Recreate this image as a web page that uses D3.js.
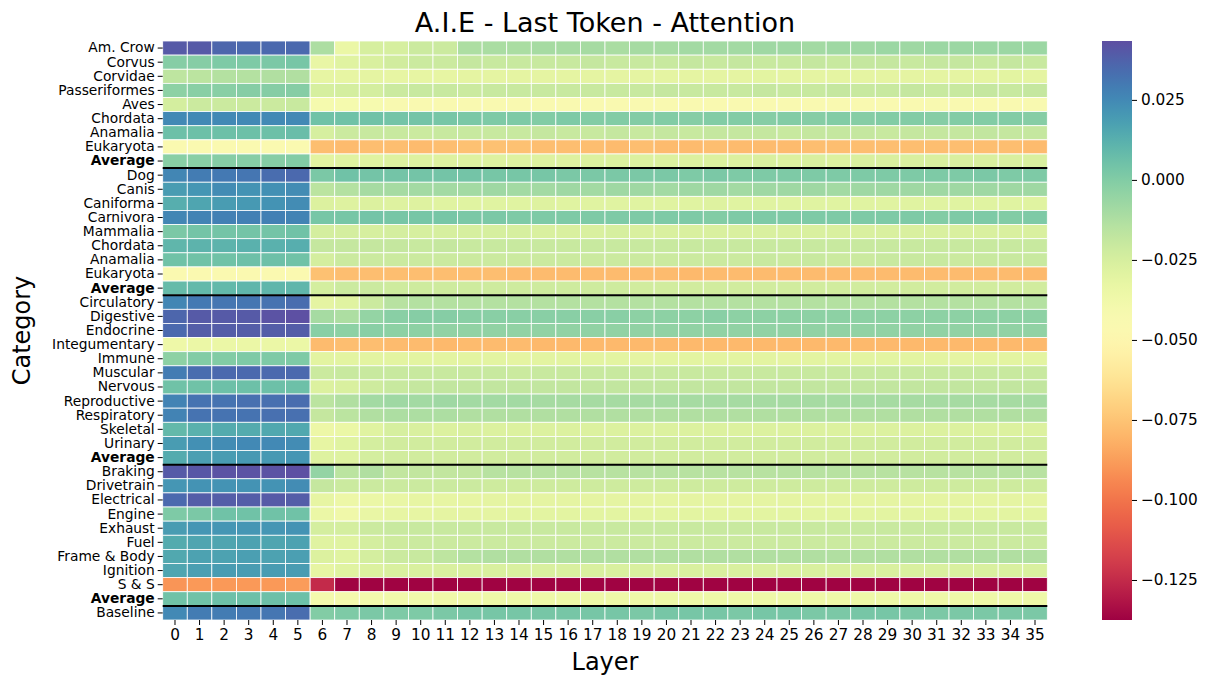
<!DOCTYPE html>
<html>
<head>
<meta charset="utf-8">
<script src="https://cdn.jsdelivr.net/npm/d3@7"></script>
<style>
  body { margin: 0; background: #fff; }
  svg { font-family: "DejaVu Sans", sans-serif; }
</style>
</head>
<body>
<script>
// rows of the heatmap (top to bottom)
var categories = ["Am. Crow", "Corvus", "Corvidae", "Passeriformes", "Aves", "Chordata", "Anamalia", "Eukaryota", "Average",
  "Dog", "Canis", "Caniforma", "Carnivora", "Mammalia", "Chordata", "Anamalia", "Eukaryota", "Average",
  "Circulatory", "Digestive", "Endocrine", "Integumentary", "Immune", "Muscular", "Nervous", "Reproductive",
  "Respiratory", "Skeletal", "Urinary", "Average",
  "Braking", "Drivetrain", "Electrical", "Engine", "Exhaust", "Fuel", "Frame & Body", "Ignition", "S & S", "Average",
  "Baseline"];

// columns
var layers = d3.range(36);

// black separators sit above these row indices
var groupBreaks = [9, 18, 30, 40];

var colorbarTicks = [-0.125, -0.1, -0.075, -0.05, -0.025, 0, 0.025];
var vmin = -0.1375, vmax = 0.0434;

// values[row][layer]
var values = [
  [0.040,0.040,0.036,0.035,0.035,0.035, -0.012,-0.034,-0.025,-0.025,-0.021,-0.021,-0.012,-0.011,-0.011,-0.010, -0.010,-0.010,-0.011,-0.010,-0.010,-0.009,-0.009,-0.009,-0.008,-0.008, -0.009,-0.008,-0.008,-0.007,-0.008,-0.007,-0.007,-0.007,-0.007,-0.007],
  [-0.001,-0.001,0.001,0.001,0.002,0.003, -0.033,-0.029,-0.026,-0.023,-0.021,-0.021,-0.019,-0.020,-0.020,-0.020, -0.020,-0.019,-0.020,-0.020,-0.020,-0.019,-0.020,-0.019,-0.020,-0.020, -0.019,-0.020,-0.019,-0.019,-0.020,-0.019,-0.019,-0.020,-0.019,-0.020],
  [-0.017,-0.016,-0.014,-0.014,-0.013,-0.013, -0.032,-0.032,-0.031,-0.032,-0.032,-0.032,-0.031,-0.031,-0.031,-0.031, -0.031,-0.031,-0.031,-0.031,-0.031,-0.031,-0.031,-0.031,-0.030,-0.031, -0.031,-0.031,-0.031,-0.031,-0.031,-0.031,-0.031,-0.031,-0.030,-0.031],
  [-0.003,-0.002,-0.002,-0.001,-0.001,-0.001, -0.025,-0.024,-0.024,-0.021,-0.020,-0.020,-0.021,-0.020,-0.020,-0.020, -0.020,-0.020,-0.020,-0.020,-0.019,-0.020,-0.020,-0.020,-0.019,-0.020, -0.020,-0.019,-0.020,-0.020,-0.019,-0.020,-0.020,-0.019,-0.020,-0.019],
  [-0.024,-0.021,-0.021,-0.021,-0.021,-0.020, -0.041,-0.041,-0.042,-0.044,-0.045,-0.045,-0.045,-0.045,-0.045,-0.045, -0.045,-0.045,-0.045,-0.045,-0.045,-0.045,-0.045,-0.045,-0.045,-0.045, -0.045,-0.045,-0.045,-0.045,-0.045,-0.044,-0.045,-0.045,-0.045,-0.044],
  [0.025,0.025,0.025,0.025,0.025,0.025, 0.005,0.005,0.005,0.004,0.004,0.003,0.002,0.001,0.001,0.000, 0.001,0.000,0.000,0.000,0.000,-0.001,0.000,0.000,-0.001,0.000, -0.001,0.000,-0.001,0.000,0.000,-0.001,0.000,0.000,0.000,-0.001],
  [0.006,0.006,0.006,0.006,0.006,0.007, -0.025,-0.021,-0.020,-0.020,-0.021,-0.020,-0.020,-0.020,-0.020,-0.019, -0.020,-0.020,-0.019,-0.020,-0.019,-0.020,-0.019,-0.019,-0.019,-0.020, -0.019,-0.019,-0.019,-0.020,-0.019,-0.019,-0.019,-0.018,-0.019,-0.019],
  [-0.046,-0.046,-0.046,-0.046,-0.046,-0.046, -0.077,-0.078,-0.077,-0.077,-0.078,-0.077,-0.076,-0.076,-0.076,-0.077, -0.077,-0.077,-0.078,-0.077,-0.078,-0.078,-0.077,-0.078,-0.078,-0.078, -0.077,-0.077,-0.077,-0.077,-0.077,-0.077,-0.077,-0.077,-0.077,-0.078],
  [-0.002,-0.002,-0.001,-0.001,-0.001,0.000, -0.030,-0.029,-0.029,-0.028,-0.028,-0.028,-0.028,-0.028,-0.028,-0.028, -0.028,-0.027,-0.027,-0.027,-0.027,-0.027,-0.027,-0.027,-0.026,-0.027, -0.026,-0.027,-0.026,-0.026,-0.026,-0.026,-0.026,-0.026,-0.026,-0.026],
  [0.026,0.029,0.030,0.031,0.034,0.035, 0.002,0.005,0.004,0.004,0.004,0.004,0.004,0.003,0.003,0.003, 0.002,0.002,0.002,0.002,0.002,0.001,0.002,0.001,0.001,0.001, 0.001,0.001,0.001,0.001,0.001,0.001,0.001,0.002,0.001,0.001],
  [0.019,0.021,0.024,0.022,0.023,0.024, -0.016,-0.014,-0.010,-0.010,-0.009,-0.009,-0.009,-0.008,-0.009,-0.009, -0.008,-0.009,-0.008,-0.008,-0.009,-0.008,-0.008,-0.009,-0.008,-0.008, -0.008,-0.009,-0.008,-0.008,-0.008,-0.008,-0.008,-0.008,-0.008,-0.008],
  [0.013,0.016,0.019,0.020,0.022,0.024, -0.027,-0.028,-0.027,-0.028,-0.028,-0.029,-0.029,-0.029,-0.029,-0.028, -0.029,-0.029,-0.029,-0.029,-0.029,-0.029,-0.028,-0.029,-0.029,-0.029, -0.029,-0.029,-0.029,-0.029,-0.029,-0.029,-0.029,-0.029,-0.029,-0.029],
  [0.026,0.027,0.028,0.028,0.028,0.027, 0.003,0.003,0.004,0.003,0.003,0.003,0.002,0.002,0.001,0.001, 0.001,0.001,0.001,0.001,0.001,0.001,0.000,0.001,0.001,0.001, 0.001,0.001,0.001,0.001,0.001,0.000,0.001,0.001,0.000,0.001],
  [0.002,0.004,0.004,0.004,0.004,0.005, -0.024,-0.024,-0.025,-0.024,-0.025,-0.025,-0.025,-0.025,-0.025,-0.026, -0.026,-0.026,-0.025,-0.026,-0.026,-0.026,-0.026,-0.026,-0.026,-0.026, -0.026,-0.026,-0.026,-0.026,-0.026,-0.026,-0.026,-0.026,-0.026,-0.026],
  [0.010,0.011,0.011,0.012,0.012,0.013, -0.019,-0.019,-0.019,-0.019,-0.020,-0.019,-0.020,-0.020,-0.020,-0.020, -0.020,-0.020,-0.020,-0.020,-0.020,-0.020,-0.020,-0.020,-0.020,-0.020, -0.020,-0.020,-0.020,-0.020,-0.020,-0.020,-0.020,-0.020,-0.020,-0.020],
  [0.005,0.005,0.005,0.006,0.006,0.005, -0.024,-0.021,-0.021,-0.021,-0.021,-0.021,-0.021,-0.021,-0.021,-0.021, -0.021,-0.021,-0.021,-0.021,-0.021,-0.021,-0.021,-0.021,-0.020,-0.021, -0.020,-0.021,-0.021,-0.020,-0.020,-0.020,-0.021,-0.020,-0.020,-0.020],
  [-0.046,-0.046,-0.046,-0.046,-0.046,-0.046, -0.076,-0.077,-0.077,-0.077,-0.077,-0.077,-0.077,-0.077,-0.078,-0.078, -0.078,-0.078,-0.078,-0.078,-0.078,-0.079,-0.078,-0.078,-0.078,-0.078, -0.078,-0.078,-0.078,-0.078,-0.078,-0.078,-0.078,-0.078,-0.078,-0.079],
  [0.008,0.009,0.009,0.010,0.010,0.010, -0.024,-0.021,-0.021,-0.022,-0.022,-0.022,-0.022,-0.022,-0.022,-0.022, -0.022,-0.022,-0.022,-0.023,-0.023,-0.023,-0.023,-0.023,-0.023,-0.023, -0.023,-0.023,-0.023,-0.023,-0.023,-0.023,-0.023,-0.023,-0.023,-0.023],
  [0.026,0.030,0.031,0.031,0.032,0.034, -0.031,-0.029,-0.021,-0.015,-0.014,-0.014,-0.014,-0.014,-0.014,-0.014, -0.014,-0.014,-0.014,-0.014,-0.014,-0.014,-0.014,-0.014,-0.014,-0.014, -0.014,-0.014,-0.014,-0.014,-0.014,-0.014,-0.014,-0.014,-0.014,-0.014],
  [0.036,0.040,0.040,0.040,0.042,0.043, -0.010,-0.012,-0.005,-0.002,-0.001,-0.001,-0.002,-0.002,-0.002,-0.002, -0.002,-0.002,-0.002,-0.003,-0.003,-0.003,-0.002,-0.003,-0.003,-0.003, -0.003,-0.003,-0.003,-0.003,-0.003,-0.003,-0.003,-0.003,-0.003,-0.003],
  [0.035,0.039,0.039,0.039,0.039,0.039, -0.002,-0.003,-0.002,-0.003,-0.003,-0.004,-0.004,-0.004,-0.004,-0.004, -0.004,-0.004,-0.004,-0.004,-0.004,-0.004,-0.004,-0.004,-0.004,-0.004, -0.004,-0.004,-0.004,-0.004,-0.004,-0.004,-0.004,-0.004,-0.004,-0.004],
  [-0.036,-0.034,-0.034,-0.034,-0.034,-0.034, -0.078,-0.077,-0.077,-0.078,-0.078,-0.079,-0.078,-0.078,-0.078,-0.079, -0.079,-0.079,-0.079,-0.079,-0.079,-0.079,-0.079,-0.079,-0.079,-0.079, -0.079,-0.079,-0.079,-0.079,-0.079,-0.079,-0.079,-0.079,-0.079,-0.079],
  [-0.003,0.000,0.000,0.001,0.001,0.001, -0.030,-0.030,-0.030,-0.030,-0.030,-0.030,-0.030,-0.030,-0.031,-0.030, -0.030,-0.030,-0.030,-0.031,-0.030,-0.030,-0.030,-0.030,-0.030,-0.031, -0.030,-0.030,-0.030,-0.030,-0.030,-0.030,-0.031,-0.030,-0.030,-0.030],
  [0.029,0.034,0.035,0.035,0.035,0.035, -0.021,-0.020,-0.020,-0.020,-0.020,-0.020,-0.020,-0.020,-0.021,-0.020, -0.020,-0.020,-0.020,-0.020,-0.020,-0.020,-0.020,-0.020,-0.020,-0.020, -0.020,-0.020,-0.020,-0.020,-0.020,-0.020,-0.020,-0.020,-0.020,-0.020],
  [0.005,0.005,0.006,0.006,0.006,0.006, -0.027,-0.026,-0.022,-0.020,-0.019,-0.018,-0.018,-0.018,-0.018,-0.018, -0.018,-0.018,-0.018,-0.018,-0.018,-0.018,-0.018,-0.018,-0.018,-0.018, -0.018,-0.018,-0.018,-0.018,-0.018,-0.018,-0.018,-0.018,-0.018,-0.018],
  [0.027,0.032,0.032,0.033,0.033,0.034, -0.016,-0.013,-0.009,-0.008,-0.009,-0.008,-0.009,-0.009,-0.009,-0.010, -0.010,-0.010,-0.010,-0.010,-0.010,-0.010,-0.010,-0.010,-0.010,-0.010, -0.010,-0.010,-0.010,-0.010,-0.010,-0.010,-0.010,-0.010,-0.010,-0.010],
  [0.027,0.032,0.032,0.032,0.033,0.033, -0.019,-0.016,-0.013,-0.012,-0.012,-0.012,-0.013,-0.013,-0.013,-0.013, -0.013,-0.013,-0.013,-0.013,-0.013,-0.013,-0.013,-0.013,-0.013,-0.013, -0.013,-0.013,-0.013,-0.013,-0.013,-0.013,-0.013,-0.013,-0.013,-0.013],
  [0.009,0.012,0.014,0.014,0.015,0.015, -0.035,-0.034,-0.029,-0.025,-0.026,-0.027,-0.026,-0.027,-0.027,-0.027, -0.027,-0.027,-0.027,-0.027,-0.027,-0.027,-0.027,-0.027,-0.027,-0.027, -0.027,-0.027,-0.027,-0.027,-0.027,-0.027,-0.027,-0.027,-0.027,-0.027],
  [0.019,0.023,0.024,0.025,0.025,0.024, -0.032,-0.029,-0.024,-0.023,-0.023,-0.023,-0.023,-0.023,-0.023,-0.023, -0.023,-0.023,-0.023,-0.023,-0.023,-0.023,-0.023,-0.023,-0.023,-0.023, -0.023,-0.023,-0.023,-0.023,-0.023,-0.023,-0.023,-0.023,-0.023,-0.023],
  [0.014,0.018,0.019,0.020,0.020,0.021, -0.028,-0.028,-0.024,-0.023,-0.023,-0.023,-0.023,-0.023,-0.023,-0.023, -0.023,-0.023,-0.023,-0.023,-0.023,-0.023,-0.023,-0.023,-0.023,-0.023, -0.023,-0.023,-0.023,-0.023,-0.023,-0.023,-0.023,-0.023,-0.023,-0.023],
  [0.040,0.041,0.042,0.042,0.042,0.043, -0.005,-0.016,-0.013,-0.018,-0.018,-0.018,-0.018,-0.015,-0.015,-0.015, -0.015,-0.015,-0.015,-0.015,-0.015,-0.015,-0.015,-0.015,-0.015,-0.015, -0.015,-0.015,-0.015,-0.015,-0.015,-0.015,-0.015,-0.015,-0.015,-0.015],
  [0.021,0.022,0.022,0.022,0.022,0.024, -0.019,-0.021,-0.021,-0.021,-0.021,-0.021,-0.021,-0.022,-0.022,-0.022, -0.022,-0.022,-0.022,-0.022,-0.022,-0.022,-0.022,-0.022,-0.022,-0.022, -0.022,-0.022,-0.022,-0.022,-0.022,-0.022,-0.022,-0.022,-0.022,-0.022],
  [0.035,0.039,0.039,0.039,0.040,0.039, -0.032,-0.035,-0.034,-0.033,-0.032,-0.032,-0.032,-0.031,-0.031,-0.031, -0.031,-0.031,-0.031,-0.031,-0.031,-0.031,-0.031,-0.031,-0.031,-0.031, -0.031,-0.031,-0.031,-0.031,-0.031,-0.031,-0.031,-0.031,-0.031,-0.031],
  [0.001,0.002,0.005,0.005,0.005,0.005, -0.034,-0.037,-0.033,-0.032,-0.032,-0.031,-0.031,-0.031,-0.030,-0.030, -0.030,-0.030,-0.030,-0.030,-0.030,-0.030,-0.030,-0.030,-0.030,-0.030, -0.030,-0.030,-0.030,-0.030,-0.030,-0.030,-0.030,-0.030,-0.030,-0.030],
  [0.019,0.021,0.021,0.021,0.021,0.022, -0.024,-0.024,-0.021,-0.020,-0.020,-0.020,-0.020,-0.020,-0.020,-0.020, -0.020,-0.020,-0.020,-0.020,-0.020,-0.020,-0.020,-0.020,-0.020,-0.020, -0.020,-0.020,-0.020,-0.020,-0.020,-0.020,-0.020,-0.020,-0.020,-0.020],
  [0.014,0.016,0.016,0.017,0.016,0.017, -0.029,-0.029,-0.024,-0.022,-0.021,-0.021,-0.021,-0.021,-0.021,-0.021, -0.021,-0.021,-0.021,-0.021,-0.021,-0.021,-0.021,-0.021,-0.021,-0.021, -0.021,-0.021,-0.021,-0.021,-0.021,-0.021,-0.021,-0.021,-0.021,-0.021],
  [0.015,0.017,0.017,0.018,0.017,0.018, -0.027,-0.029,-0.024,-0.021,-0.020,-0.017,-0.014,-0.013,-0.013,-0.013, -0.013,-0.013,-0.013,-0.013,-0.013,-0.013,-0.013,-0.013,-0.013,-0.013, -0.013,-0.013,-0.013,-0.013,-0.013,-0.013,-0.013,-0.013,-0.013,-0.013],
  [0.016,0.018,0.019,0.019,0.019,0.019, -0.032,-0.029,-0.027,-0.026,-0.026,-0.026,-0.026,-0.026,-0.026,-0.026, -0.026,-0.026,-0.026,-0.026,-0.026,-0.026,-0.026,-0.026,-0.026,-0.026, -0.026,-0.026,-0.026,-0.026,-0.026,-0.026,-0.026,-0.026,-0.026,-0.026],
  [-0.090,-0.089,-0.089,-0.089,-0.089,-0.088, -0.125,-0.137,-0.137,-0.137,-0.137,-0.137,-0.137,-0.137,-0.137,-0.137, -0.137,-0.137,-0.137,-0.137,-0.137,-0.137,-0.137,-0.137,-0.137,-0.137, -0.137,-0.137,-0.137,-0.137,-0.137,-0.137,-0.137,-0.137,-0.137,-0.137],
  [0.005,0.005,0.006,0.006,0.006,0.006, -0.040,-0.040,-0.039,-0.038,-0.038,-0.037,-0.037,-0.036,-0.036,-0.036, -0.036,-0.036,-0.036,-0.036,-0.036,-0.036,-0.036,-0.036,-0.036,-0.036, -0.036,-0.036,-0.036,-0.036,-0.036,-0.036,-0.036,-0.036,-0.036,-0.036],
  [0.025,0.029,0.029,0.030,0.031,0.034, 0.000,0.001,0.002,0.001,0.001,0.002,0.003,0.003,0.003,0.003, 0.003,0.003,0.003,0.002,0.003,0.003,0.003,0.002,0.003,0.003, 0.002,0.002,0.003,0.003,0.002,0.002,0.002,0.002,0.002,0.002]
];

var width = 1207, height = 677;
var plotLeft = 162.7, plotRight = 1047.3, plotTop = 41, plotBottom = 620;
var tickFont = "15.3px";
var rowFont = "13.8px";

var svg = d3.select("body").append("svg")
  .attr("width", width)
  .attr("height", height);

var x = d3.scaleBand().domain(layers).range([plotLeft, plotRight]);
var y = d3.scaleBand().domain(d3.range(categories.length)).range([plotTop, plotBottom]);
var color = d3.scaleSequential(d3.interpolateSpectral).domain([vmin, vmax]);

// flatten into cells
var cells = [];
values.forEach(function (row, r) {
  row.forEach(function (v, c) { cells.push({ r: r, c: c, v: v }); });
});

svg.append("g").selectAll("rect")
  .data(cells)
  .enter().append("rect")
  .attr("x", function (d) { return x(d.c); })
  .attr("y", function (d) { return y(d.r); })
  .attr("width", x.bandwidth())
  .attr("height", y.bandwidth())
  .attr("fill", function (d) { return color(d.v); })
  .attr("stroke", "#fff")
  .attr("stroke-width", 0.8);

// group separators
svg.append("g").selectAll("line")
  .data(groupBreaks)
  .enter().append("line")
  .attr("x1", plotLeft).attr("x2", plotRight)
  .attr("y1", function (d) { return y(d); })
  .attr("y2", function (d) { return y(d); })
  .attr("stroke", "#000")
  .attr("stroke-width", 2);

// y axis
var yAxis = svg.append("g")
  .attr("transform", "translate(" + plotLeft + ",0)")
  .call(d3.axisLeft(y).tickSize(5).tickPadding(3).tickFormat(function (i) { return categories[i]; }));
yAxis.select(".domain").remove();
yAxis.selectAll("text")
  .style("font-size", rowFont)
  .style("font-family", "DejaVu Sans")
  .attr("fill", "#000")
  .style("font-weight", function (i) { return categories[i] === "Average" ? "bold" : "normal"; });
yAxis.selectAll("line").attr("stroke", "#000");

// x axis
var xAxis = svg.append("g")
  .attr("transform", "translate(0," + plotBottom + ")")
  .call(d3.axisBottom(x).tickSize(5).tickPadding(4));
xAxis.select(".domain").remove();
xAxis.selectAll("text")
  .style("font-size", tickFont)
  .style("font-family", "DejaVu Sans")
  .attr("fill", "#000");
xAxis.selectAll("line").attr("stroke", "#000");

// titles
svg.append("text")
  .attr("x", (plotLeft + plotRight) / 2).attr("y", 32)
  .attr("text-anchor", "middle")
  .style("font-size", "27px")
  .text("A.I.E - Last Token - Attention");

svg.append("text")
  .attr("x", (plotLeft + plotRight) / 2).attr("y", 670)
  .attr("text-anchor", "middle")
  .style("font-size", "24px")
  .text("Layer");

svg.append("text")
  .attr("transform", "translate(30," + ((plotTop + plotBottom) / 2) + ") rotate(-90)")
  .attr("text-anchor", "middle")
  .style("font-size", "24px")
  .text("Category");

// colorbar
var cbX = 1102, cbW = 30;
var cbScale = d3.scaleLinear().domain([vmin, vmax]).range([plotBottom, plotTop]);

var grad = svg.append("defs").append("linearGradient")
  .attr("id", "cbgrad")
  .attr("x1", "0").attr("y1", "1").attr("x2", "0").attr("y2", "0");
grad.selectAll("stop")
  .data(d3.range(0, 1.0001, 0.02))
  .enter().append("stop")
  .attr("offset", function (d) { return d; })
  .attr("stop-color", function (d) { return d3.interpolateSpectral(d); });

svg.append("rect")
  .attr("x", cbX).attr("y", plotTop)
  .attr("width", cbW).attr("height", plotBottom - plotTop)
  .attr("fill", "url(#cbgrad)");

var cbAxis = svg.append("g")
  .attr("transform", "translate(" + (cbX + cbW) + ",0)")
  .call(d3.axisRight(cbScale).tickValues(colorbarTicks).tickSize(5).tickPadding(4).tickFormat(d3.format(".3f")));
cbAxis.select(".domain").remove();
cbAxis.selectAll("text")
  .style("font-size", tickFont)
  .style("font-family", "DejaVu Sans")
  .attr("fill", "#000");
cbAxis.selectAll("line").attr("stroke", "#000");
</script>
</body>
</html>
